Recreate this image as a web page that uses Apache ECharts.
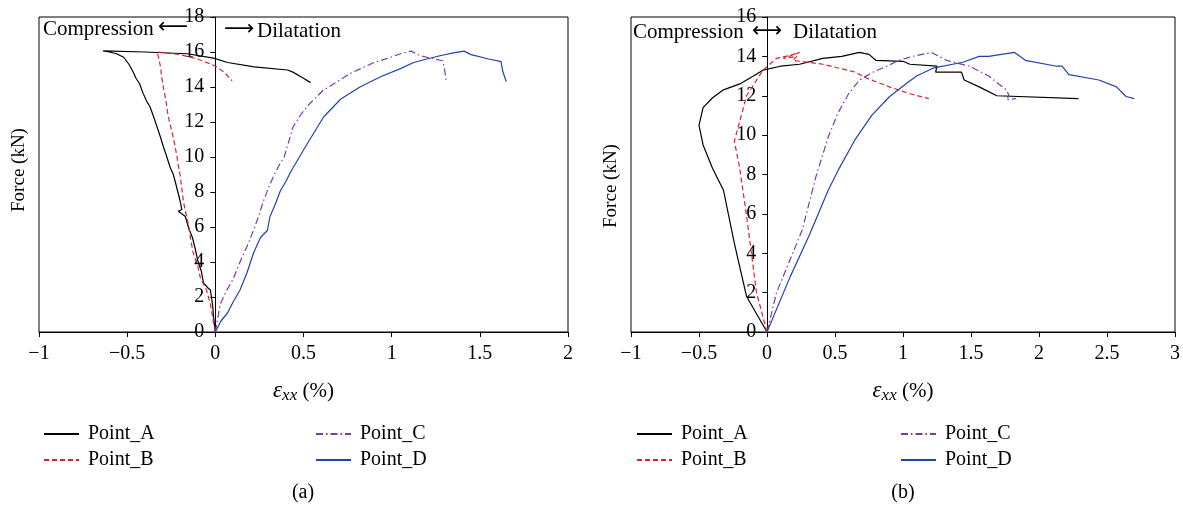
<!DOCTYPE html>
<html>
<head>
<meta charset="utf-8">
<script src="https://cdn.jsdelivr.net/npm/echarts@6/dist/echarts.min.js"></script>
<style>
html,body{margin:0;padding:0;background:#fff;}
#chart{width:1183px;height:510px;}
</style>
</head>
<body>
<div id="chart"></div>
<script>
// ---- Data (strain %, force kN) ----
const seriesNames = ['Point_A', 'Point_B', 'Point_C', 'Point_D'];

// Panel (a)
const a_PointA = [[0,0],[-0.01,0.86],[-0.015,1.5],[-0.028,2.4],[-0.04,2.5],[-0.067,2.8],[-0.08,3.5],[-0.1,4.1],[-0.115,4.8],[-0.13,5.4],[-0.15,5.9],[-0.17,6.6],[-0.21,6.9],[-0.19,7.0],[-0.2,7.5],[-0.22,8.3],[-0.238,9.0],[-0.256,9.4],[-0.275,10.0],[-0.295,10.6],[-0.31,11.1],[-0.33,11.7],[-0.35,12.3],[-0.37,12.86],[-0.39,13.2],[-0.41,13.65],[-0.43,14.2],[-0.45,14.5],[-0.466,14.86],[-0.49,15.3],[-0.52,15.7],[-0.56,15.9],[-0.6,16.0],[-0.636,16.06],[-0.4,16.0],[-0.16,15.9],[-0.01,15.65],[0.07,15.4],[0.22,15.15],[0.41,14.97],[0.44,14.85],[0.5,14.5],[0.54,14.25]];
const a_PointB = [[0,0],[-0.01,0.5],[-0.028,1.6],[-0.05,2.4],[-0.085,3.1],[-0.1,3.8],[-0.125,4.5],[-0.14,5.3],[-0.15,6.0],[-0.165,6.7],[-0.18,7.4],[-0.19,8.2],[-0.2,9.0],[-0.21,9.5],[-0.217,10.0],[-0.23,10.7],[-0.245,11.4],[-0.26,12.0],[-0.27,12.5],[-0.28,13.2],[-0.295,14.0],[-0.305,14.6],[-0.31,15.1],[-0.32,15.6],[-0.33,16.0],[-0.2,15.85],[-0.1,15.6],[0,15.2],[0.05,14.85],[0.095,14.35]];
const a_PointC = [[0,0],[0.028,1.6],[0.06,2.3],[0.1,3.0],[0.14,4.0],[0.18,4.9],[0.216,5.8],[0.245,6.6],[0.27,7.4],[0.3,8.2],[0.33,8.9],[0.36,9.5],[0.39,10.0],[0.42,11.0],[0.44,11.7],[0.49,12.5],[0.54,13.1],[0.61,13.8],[0.69,14.3],[0.77,14.8],[0.9,15.4],[0.98,15.65],[1.05,15.9],[1.11,16.05],[1.16,15.8],[1.22,15.65],[1.29,15.5],[1.3,15.0],[1.31,14.3]];
const a_PointD = [[0,0],[0.03,0.6],[0.07,1.1],[0.1,1.7],[0.14,2.4],[0.18,3.4],[0.216,4.5],[0.256,5.4],[0.295,5.8],[0.31,6.6],[0.34,7.3],[0.37,8.1],[0.4,8.6],[0.43,9.2],[0.5,10.4],[0.56,11.4],[0.615,12.3],[0.71,13.3],[0.82,14.0],[0.94,14.6],[1.05,15.05],[1.125,15.4],[1.2,15.6],[1.28,15.8],[1.35,15.95],[1.41,16.05],[1.45,15.85],[1.55,15.6],[1.62,15.45],[1.63,14.9],[1.65,14.3]];

// Panel (b)
const b_PointA = [[0,0],[-0.15,1.8],[-0.24,4.5],[-0.32,7.2],[-0.4,8.3],[-0.47,9.5],[-0.5,10.5],[-0.47,11.4],[-0.4,11.9],[-0.32,12.3],[-0.2,12.6],[-0.1,13.0],[-0.03,13.3],[0.1,13.5],[0.24,13.6],[0.41,13.9],[0.55,14.0],[0.68,14.2],[0.75,14.1],[0.8,13.8],[1.0,13.75],[1.05,13.6],[1.25,13.5],[1.24,13.2],[1.43,13.2],[1.45,12.8],[1.56,12.45],[1.69,12.0],[2.29,11.85]];
const b_PointB = [[0,0],[-0.077,2.0],[-0.15,5.9],[-0.2,8.3],[-0.24,9.7],[-0.22,10.2],[-0.15,12.0],[-0.03,13.3],[0.07,13.9],[0.17,14.05],[0.24,14.2],[0.12,13.9],[0.22,14.0],[0.19,13.8],[0.41,13.6],[0.65,13.2],[0.73,12.9],[0.9,12.45],[1.05,12.1],[1.19,11.85]];
const b_PointC = [[0,0],[0.07,2.0],[0.26,5.2],[0.36,7.9],[0.45,9.9],[0.52,11.1],[0.6,12.1],[0.68,12.8],[0.78,13.2],[0.88,13.5],[0.97,13.8],[1.07,14.0],[1.21,14.2],[1.32,13.8],[1.49,13.5],[1.63,13.0],[1.76,12.3],[1.78,12.0],[1.76,11.8],[1.83,11.85]];
const b_PointD = [[0,0],[0.17,2.8],[0.31,4.9],[0.45,7.2],[0.53,8.3],[0.65,9.8],[0.77,11.0],[0.9,11.95],[1.02,12.6],[1.1,13.0],[1.22,13.4],[1.44,13.7],[1.56,14.0],[1.63,14.0],[1.82,14.2],[1.9,13.8],[2.13,13.5],[2.17,13.5],[2.22,13.07],[2.44,12.8],[2.57,12.45],[2.64,11.96],[2.7,11.85]];

// Axis ranges
const a_xRange = [-1, 2];
const a_yRange = [0, 18];
const b_xRange = [-1, 3];
const b_yRange = [0, 16];

// ---- Layout / styles ----
const FONT = '"Liberation Serif", "DejaVu Serif", serif';
const ARROWFONT = '"DejaVu Sans", "Liberation Serif", sans-serif';
const gridA = { left: 39, top: 17, width: 529, height: 315 };
const gridB = { left: 631, top: 17, width: 545, height: 315 };
const lineStyles = {
  Point_A: { color: '#000000', width: 1.2, type: 'solid' },
  Point_B: { color: '#dc2428', width: 1.2, type: [5, 3] },
  Point_C: { color: '#7a3aa8', width: 1.2, type: [7, 3, 1.5, 3] },
  Point_D: { color: '#2342b0', width: 1.2, type: 'solid' }
};
const fmt = v => String(v).replace('-', '\u2212');

function xAx(grid, range) {
  return {
    type: 'value', gridIndex: grid, min: range[0], max: range[1], interval: 0.5,
    axisLine: { onZero: false, lineStyle: { color: '#000', width: 1 } },
    axisTick: { show: true, length: 5, lineStyle: { color: '#000' } },
    axisLabel: { color: '#000', fontFamily: FONT, fontSize: 20, margin: 12, formatter: fmt },
    splitLine: { show: false },
    name: '{e|ε}{s|xx}{n| (%)}', nameLocation: 'middle', nameGap: 46,
    nameTextStyle: {
      rich: {
        e: { fontFamily: FONT, fontSize: 23, fontStyle: 'italic', color: '#000' },
        s: { fontFamily: FONT, fontSize: 17, fontStyle: 'italic', color: '#000', verticalAlign: 'bottom', padding: [9, 0, 0, 0] },
        n: { fontFamily: FONT, fontSize: 21, color: '#000' }
      }
    }
  };
}
function yAx(grid, range, xRange, width) {
  // place the y axis (line, ticks, labels) at strain = 0
  const off = -((0 - xRange[0]) / (xRange[1] - xRange[0])) * width;
  return {
    type: 'value', gridIndex: grid, min: range[0], max: range[1], interval: 2,
    offset: off,
    axisLine: { show: true, onZero: false, lineStyle: { color: '#000', width: 1 } },
    axisTick: { show: true, length: 5, lineStyle: { color: '#000' } },
    axisLabel: { color: '#000', fontFamily: FONT, fontSize: 20, margin: 11 },
    splitLine: { show: false }
  };
}
function mk(name, data, xi, yi) {
  return {
    type: 'line', name: name, data: data, xAxisIndex: xi, yAxisIndex: yi,
    symbol: 'none', showSymbol: false, smooth: false, animation: false,
    lineStyle: lineStyles[name], itemStyle: { color: lineStyles[name].color }
  };
}
function legend(left, names) {
  return {
    orient: 'vertical', left: left, top: 419, itemWidth: 35, itemHeight: 14, itemGap: 6,
    data: names, selectedMode: false,
    itemStyle: { opacity: 0 },
    textStyle: { fontFamily: FONT, fontSize: 20, lineHeight: 20, color: '#000', padding: [0, 0, 0, 4] }
  };
}
function txt(x, y, t, font, align) {
  return {
    type: 'text', x: x, y: y,
    style: { text: t, font: font, fill: '#000', textAlign: align || 'left', textVerticalAlign: 'middle' }
  };
}

const chart = echarts.init(document.getElementById('chart'), null, { renderer: 'canvas' });
chart.setOption({
  animation: false,
  backgroundColor: '#fff',
  grid: [
    Object.assign({ show: true, borderColor: '#000', borderWidth: 1, containLabel: false }, gridA),
    Object.assign({ show: true, borderColor: '#000', borderWidth: 1, containLabel: false }, gridB)
  ],
  xAxis: [xAx(0, a_xRange), xAx(1, b_xRange)],
  yAxis: [yAx(0, a_yRange, a_xRange, gridA.width), yAx(1, b_yRange, b_xRange, gridB.width)],
  legend: [
    legend(38, ['Point_A', 'Point_B']),
    legend(310, ['Point_C', 'Point_D']),
    legend(631, ['Point_A', 'Point_B']),
    legend(895, ['Point_C', 'Point_D'])
  ],
  series: [
    mk('Point_A', a_PointA, 0, 0),
    mk('Point_B', a_PointB, 0, 0),
    mk('Point_C', a_PointC, 0, 0),
    mk('Point_D', a_PointD, 0, 0),
    mk('Point_A', b_PointA, 1, 1),
    mk('Point_B', b_PointB, 1, 1),
    mk('Point_C', b_PointC, 1, 1),
    mk('Point_D', b_PointD, 1, 1)
  ],
  graphic: [
    txt(43, 29, 'Compression', '21px ' + FONT),
    txt(158, 28, '\u27F5', '21px ' + ARROWFONT),
    txt(224, 30, '\u27F6', '21px ' + ARROWFONT),
    txt(257, 31, 'Dilatation', '21px ' + FONT),
    txt(633, 32, 'Compression', '21px ' + FONT),
    txt(752, 32, '\u27F7', '21px ' + ARROWFONT),
    txt(793, 32, 'Dilatation', '21px ' + FONT),
    { type: 'text', x: 19, y: 170, rotation: Math.PI / 2,
      style: { text: 'Force (kN)', font: '19px ' + FONT, fill: '#000', textAlign: 'center', textVerticalAlign: 'middle' } },
    { type: 'text', x: 611, y: 186, rotation: Math.PI / 2,
      style: { text: 'Force (kN)', font: '19px ' + FONT, fill: '#000', textAlign: 'center', textVerticalAlign: 'middle' } },
    txt(303, 493, '(a)', '20px ' + FONT, 'center'),
    txt(903, 493, '(b)', '20px ' + FONT, 'center')
  ]
});
</script>
</body>
</html>
